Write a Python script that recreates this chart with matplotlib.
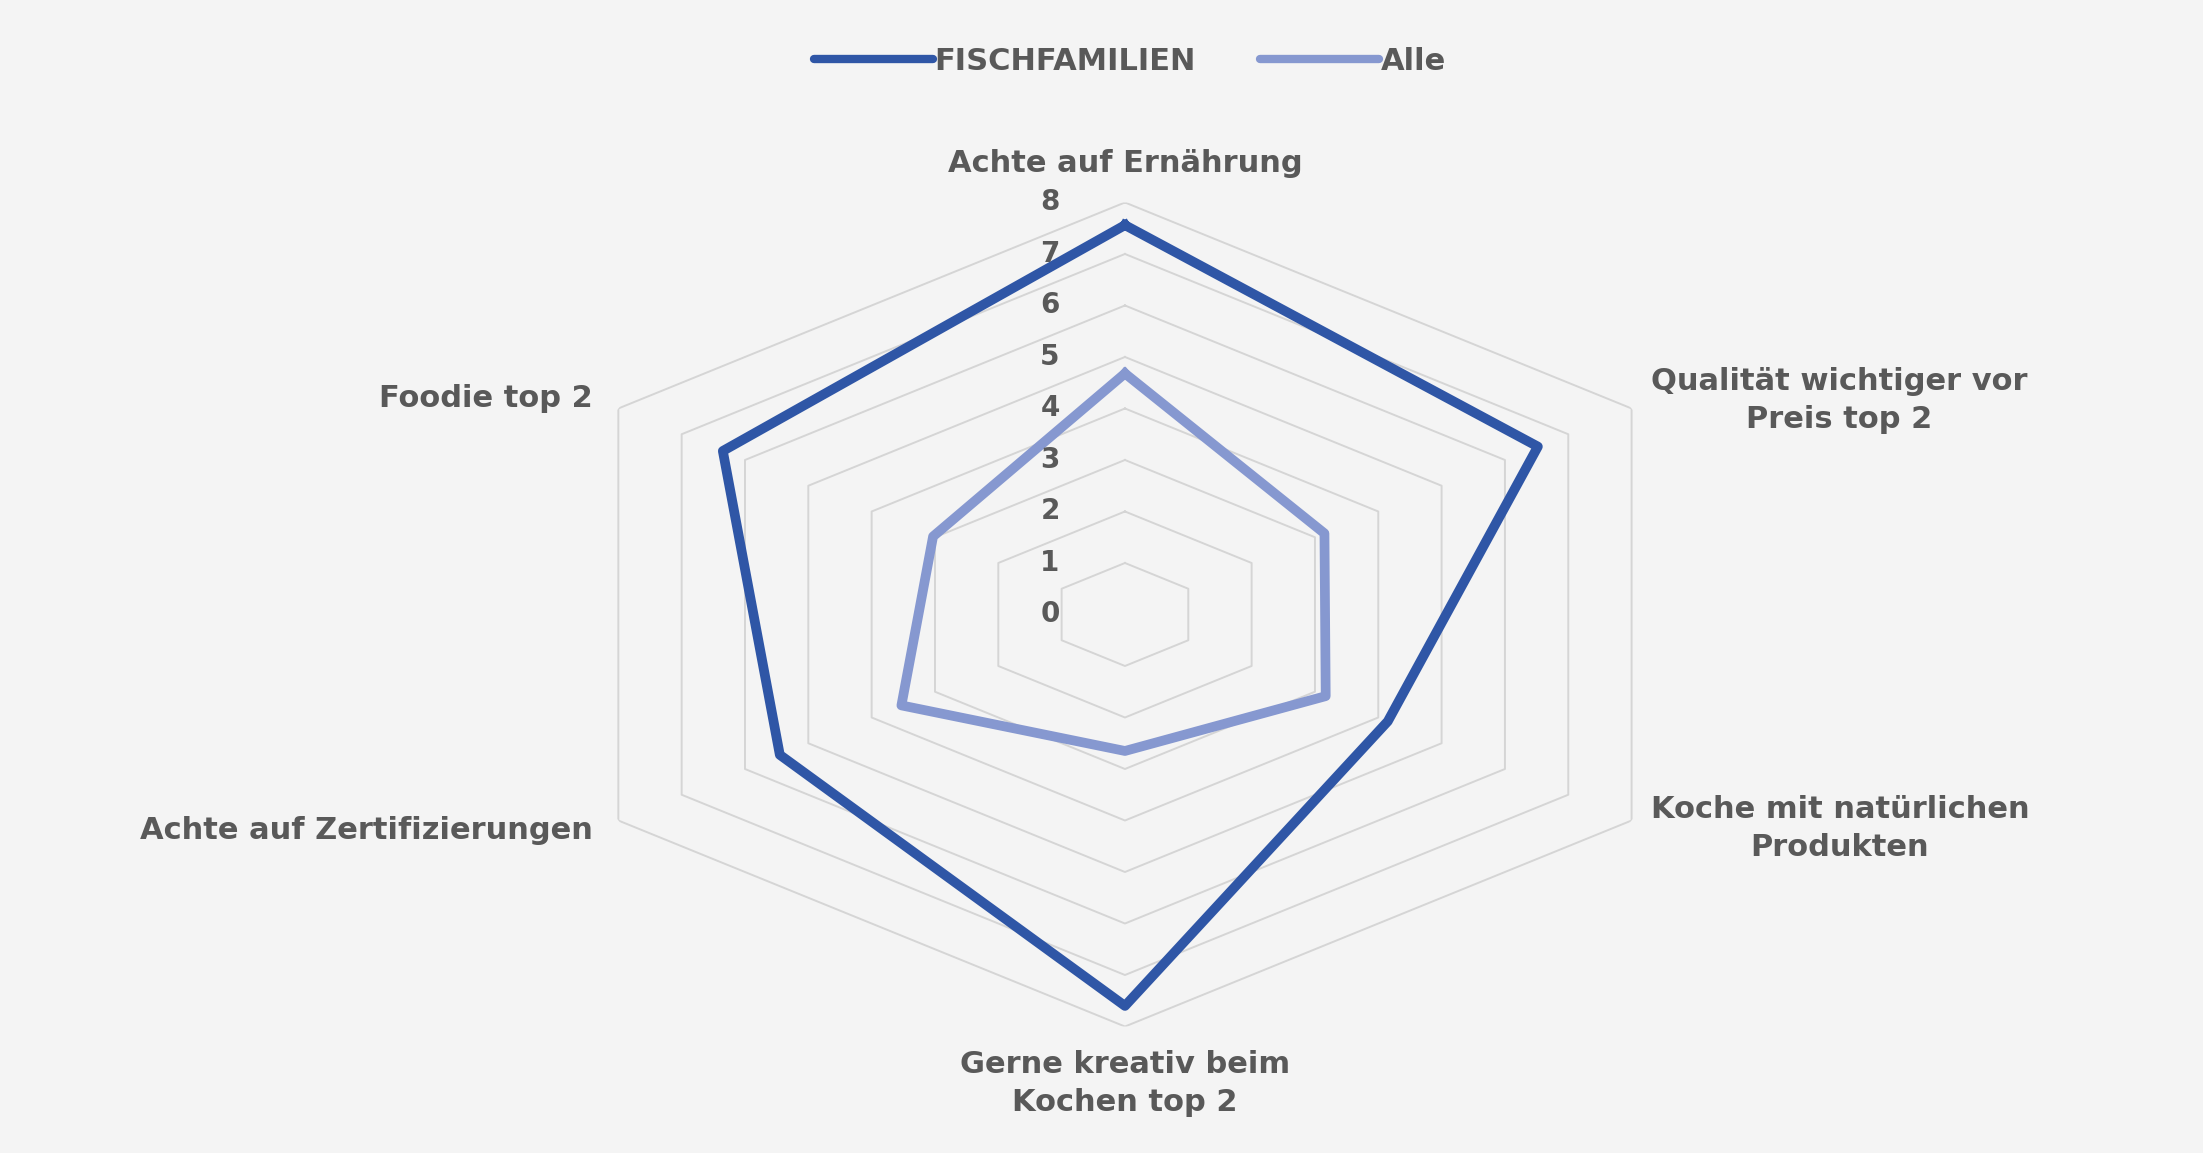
import numpy as np
import matplotlib
matplotlib.use('Agg')
import matplotlib.pyplot as plt
import matplotlib.transforms as mtransforms

# Werte aus dem Netzdiagramm
kategorien = ['Achte auf Ernährung',
              'Qualität wichtiger vor\nPreis top 2',
              'Koche mit natürlichen\nProdukten',
              'Gerne kreativ beim\nKochen top 2',
              'Achte auf Zertifizierungen',
              'Foodie top 2']
fischfamilien = [7.56, 6.52, 4.15, 7.6, 5.45, 6.35]
alle = [4.68, 3.15, 3.17, 2.65, 3.53, 3.03]
skala = [0, 1, 2, 3, 4, 5, 6, 7, 8]

grau = '#595959'
hintergrund = '#f4f4f4'

fig = plt.figure(figsize=(22.03, 11.53), dpi=100, facecolor=hintergrund)
ax = fig.add_axes([0.2451, 0.1097, 0.5311, 0.7147], projection='polar')
ax.set_aspect('auto')
ax.set_facecolor('none')
ax.set_theta_zero_location('N')
ax.set_theta_direction(-1)

winkel = np.linspace(0, 2 * np.pi, len(kategorien), endpoint=False)
winkel_zu = np.append(winkel, winkel[0])

# sechseckige Gitterlinien
for r in skala[1:]:
    ax.plot(winkel_zu, [r] * len(winkel_zu), color='#d5d5d5', lw=1.4, zorder=1)

ax.plot(winkel_zu, fischfamilien + fischfamilien[:1], color='#2f56a6', lw=7,
        label='FISCHFAMILIEN', zorder=3)
ax.plot(winkel_zu, alle + alle[:1], color='#8698d0', lw=7,
        label='Alle', zorder=3)

ax.set_ylim(0, 8)
ax.grid(False)
ax.set_xticks([])
ax.set_yticks([])
ax.spines['polar'].set_visible(False)

# Skalenbeschriftung links neben der senkrechten Achse
versatz = mtransforms.offset_copy(ax.transData, fig=fig, x=-75, y=0, units='dots')
for r in skala:
    ax.text(0, r, str(r), transform=versatz, ha='center', va='center',
            fontsize=20, fontweight='bold', color=grau, zorder=4)

# Kategorienamen
lage = [(8.75, 'center'), (8.3, 'left'), (8.3, 'left'),
        (9.1, 'center'), (8.4, 'right'), (8.4, 'right')]
for w, name, (r, ha) in zip(winkel, kategorien, lage):
    ax.text(w, r, name, ha=ha, va='center', multialignment='center',
            fontsize=22, fontweight='bold', color=grau, linespacing=1.38,
            clip_on=False)

leg = fig.legend(loc='center', bbox_to_anchor=(0.513, 0.947), ncol=2,
                 frameon=False, fontsize=22, handlelength=3.9,
                 handletextpad=0.05, columnspacing=2.1)
for t in leg.get_texts():
    t.set_color(grau)
    t.set_fontweight('bold')
for l in leg.get_lines():
    l.set_linewidth(6)
    l.set_solid_capstyle('round')

plt.savefig('out.png', dpi=100, facecolor=hintergrund)
